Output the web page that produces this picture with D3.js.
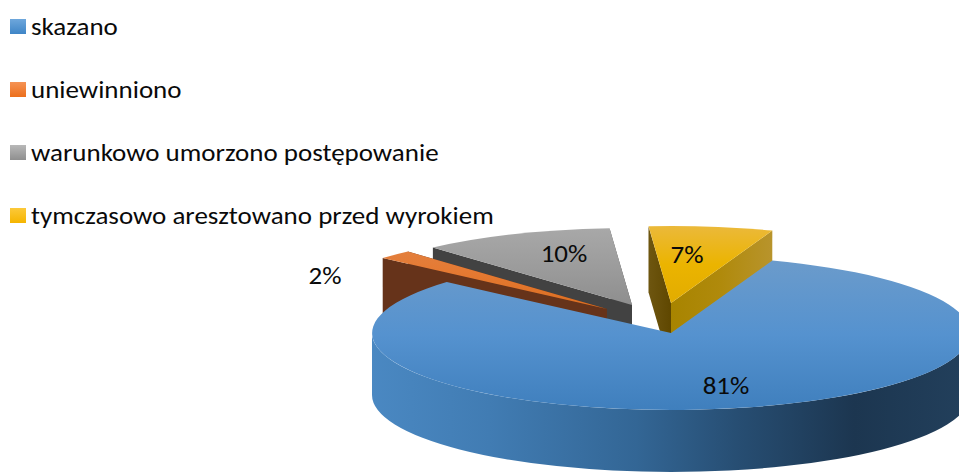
<!DOCTYPE html>
<html><head><meta charset="utf-8">
<script src="https://cdnjs.cloudflare.com/ajax/libs/d3/7.8.5/d3.min.js"></script>
<style>html,body{margin:0;padding:0;background:#fff;overflow:hidden}svg{display:block}
text{font-family:Carlito,Calibri,Lato,"Open Sans",sans-serif;fill:#0a0a0a}</style></head>
<body><svg id="c" width="959" height="473"></svg>
<script>
// data
const categories = ["skazano","uniewinniono","warunkowo umorzono postępowanie","tymczasowo aresztowano przed wyrokiem"];
const values = [81, 1.9, 10.4, 6.7];
const valueLabels = ["81%","2%","10%","7%"];

// layout + style
const W=959,H=473, cx=671, cy=333, rx=299, ry=77, depth=66, blueDepth=62;
const explodeX=[0,-64,-39,0], explodeY=[0,-24,-28,-30];
const labelX=[726,325,564,687], labelY=[386,276,254,255];
const legendY=[27,90,153,216];
const fontSize=24, stretch=1.125;
const topStops=[["#6b9bcb","#5592cf","#3f7fbd"],["#e08447","#e57a33","#dc6e20"],["#a8a8a8","#9c9c9c","#8e8e8e"],["#ebb93a","#ebb400","#e2ac00"]];
const swatchStops=[["#6ea7dc","#3f85c6"],["#f59355","#ec6f1c"],["#b8b8b8","#8f8f8f"],["#fcc93a","#f5b500"]];
const cutFill=[null,"#66331a","#424242",null];

const svg=d3.select("#c"), defs=svg.append("defs");
function grad(id,stops,x1,y1,x2,y2){
  const g=defs.append("linearGradient").attr("id",id).attr("gradientUnits","userSpaceOnUse")
    .attr("x1",x1).attr("y1",y1).attr("x2",x2).attr("y2",y2);
  stops.forEach((s,i)=>g.append("stop").attr("offset",Array.isArray(s)?s[0]:i/(stops.length-1)).attr("stop-color",Array.isArray(s)?s[1]:s));
}
const pie=d3.pie().sort(null).startAngle(19.8*Math.PI/180).endAngle(379.8*Math.PI/180);
const arcs=pie(values);
const arc=d3.arc().innerRadius(0).outerRadius(1);
const pt=(a,ox,oy)=>[ox+rx*Math.sin(a),oy-ry*Math.cos(a)];

// draw order: yellow, grey, orange, blue
[3,2,1,0].forEach(i=>{
  const d=arcs[i], ox=cx+explodeX[i], oy=cy+explodeY[i];
  // gradient runs in the arc's unit space
  grad("top"+i,topStops[i],0,i===0?-0.95:-1,0,i===0?1:0);
  const g=svg.append("g");
  if(i>0){
    const h=depth, a=pt(d.startAngle,ox,oy), b=pt(d.endAngle,ox,oy);
    const quad=p=>`M${ox},${oy}L${p[0]},${p[1]}L${p[0]},${p[1]+h}L${ox},${oy+h}Z`;
    if(i===3){
      grad("cutR",["#a88400","#b08a0c","#b8942c"],ox,0,b[0],0);
      g.append("path").attr("d",quad(b)).attr("fill","url(#cutR)");
      grad("cutL",["#6e5610","#5f4700"],a[0],0,ox,0);
      g.append("path").attr("d",quad(a)).attr("fill","url(#cutL)");
    } else {
      g.append("path").attr("d",quad(b)).attr("fill",cutFill[i]);
      g.append("path").attr("d",quad(a)).attr("fill",cutFill[i]);
    }
  } else {
    grad("wall",[[0,"#4a88c2"],[0.2,"#417cb3"],[0.45,"#336695"],[0.62,"#274e73"],[0.82,"#1c3650"],[1,"#223f5b"]],cx-rx,0,cx+rx-10,0);
    const wall=`M${cx-rx},${cy}A${rx},${ry} 0 0 0 ${cx+rx},${cy}L${cx+rx},${cy+blueDepth}A${rx},${ry} 0 0 1 ${cx-rx},${cy+blueDepth}Z`;
    g.append("path").attr("d",wall).attr("fill","url(#wall)");
  }
  // top face: unit-radius arc from the library, stretched onto the ellipse
  g.append("path").attr("d",arc(d)).attr("transform",`translate(${ox},${oy}) scale(${rx},${ry})`).attr("fill","url(#top"+i+")");
});

// value labels
svg.selectAll("text.v").data(valueLabels).join("text").attr("class","v")
  .attr("transform",(d,i)=>`translate(${labelX[i]},${labelY[i]}) scale(${stretch},1)`)
  .attr("text-anchor","middle").attr("dominant-baseline","central")
  .attr("font-size",fontSize).text(d=>d);

// legend
categories.forEach((c,i)=>{
  grad("sw"+i,swatchStops[i],0,legendY[i]-8,0,legendY[i]+7);
  svg.append("rect").attr("x",10).attr("y",legendY[i]-8).attr("width",16).attr("height",15).attr("fill","url(#sw"+i+")");
  svg.append("text").attr("transform",`translate(31,${legendY[i]}) scale(${stretch},1)`).attr("dominant-baseline","central").attr("font-size",fontSize).text(c);
});
</script></body></html>
